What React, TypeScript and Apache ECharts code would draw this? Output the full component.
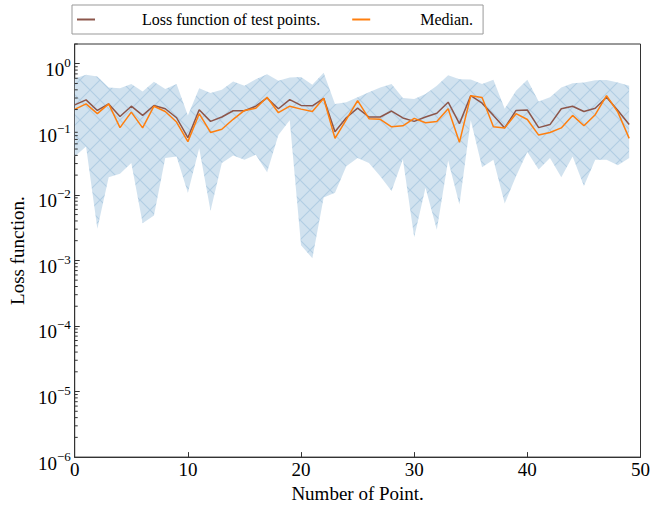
import React, { useEffect, useRef } from 'react';
import * as echarts from 'echarts';

const FONT = 'Liberation Serif';

// x positions (number of point)
const points = [
  0, 1, 2, 3, 4, 5, 6, 7, 8, 9,
  10, 11, 12, 13, 14, 15, 16, 17, 18, 19,
  20, 21, 22, 23, 24, 25, 26, 27, 28, 29,
  30, 31, 32, 33, 34, 35, 36, 37, 38, 39,
  40, 41, 42, 43, 44, 45, 46, 47, 48, 49,
];

const lossValues = [
  0.236, 0.281, 0.194, 0.244, 0.157, 0.225, 0.163, 0.231, 0.206, 0.150,
  0.0745, 0.199, 0.132, 0.154, 0.192, 0.192, 0.225, 0.301, 0.206, 0.284,
  0.231, 0.228, 0.297, 0.0917, 0.15, 0.210, 0.154, 0.154, 0.190, 0.149,
  0.132, 0.154, 0.176, 0.259, 0.122, 0.326, 0.25, 0.163, 0.105, 0.194,
  0.197, 0.106, 0.118, 0.206, 0.225, 0.187, 0.210, 0.308, 0.194, 0.118,
];

const medianValues = [
  0.201, 0.244, 0.173, 0.244, 0.106, 0.183, 0.105, 0.225, 0.187, 0.129,
  0.0649, 0.173, 0.0895, 0.100, 0.142, 0.194, 0.210, 0.308, 0.179, 0.225,
  0.203, 0.187, 0.297, 0.0727, 0.14, 0.274, 0.145, 0.142, 0.109, 0.113,
  0.147, 0.126, 0.132, 0.205, 0.0632, 0.326, 0.306, 0.109, 0.105, 0.173,
  0.141, 0.0816, 0.0895, 0.105, 0.163, 0.113, 0.167, 0.326, 0.183, 0.0727,
];

const upperValues = [
  0.594, 0.682, 0.637, 0.435, 0.421, 0.489, 0.378, 0.530, 0.411, 0.489,
  0.163, 0.421, 0.357, 0.402, 0.535, 0.461, 0.581, 0.690, 0.548, 0.615,
  0.63, 0.48, 0.73, 0.244, 0.259, 0.308, 0.366, 0.435, 0.489, 0.30,
  0.290, 0.345, 0.460, 0.667, 0.581, 0.575, 0.489, 0.568, 0.206, 0.387,
  0.57, 0.265, 0.308, 0.435, 0.506, 0.518, 0.561, 0.566, 0.518, 0.461,
];

const lowerValues = [
  0.0385, 0.0545, 0.00304, 0.0186, 0.0209, 0.0306, 0.0037, 0.00483, 0.0364, 0.0385,
  0.0108, 0.0514, 0.00574, 0.0306, 0.0399, 0.0343, 0.0408, 0.0221, 0.0816, 0.137,
  0.0017, 0.00108, 0.0091, 0.0108, 0.0273, 0.0364, 0.0306, 0.0193, 0.0115, 0.035,
  0.00225, 0.0128, 0.00294, 0.0335, 0.0071, 0.137, 0.0263, 0.0343, 0.0074, 0.0193,
  0.045, 0.0243, 0.0364, 0.0186, 0.0385, 0.0136, 0.0343, 0.0343, 0.0282, 0.0364,
];

const xTicks = [0, 10, 20, 30, 40, 50];
const yDecades = [-6, -5, -4, -3, -2, -1, 0];
const minorMultipliers = [2, 3, 4, 5, 6, 7, 8, 9];

const LOSS_NAME = 'Loss function of test points.';
const MEDIAN_NAME = 'Median.';

function makeHatch(): HTMLCanvasElement {
  const S = 20;
  const c = document.createElement('canvas');
  c.width = S;
  c.height = S;
  const ctx = c.getContext('2d')!;
  ctx.fillStyle = '#d1e2ef';
  ctx.fillRect(0, 0, S, S);
  ctx.strokeStyle = '#b1cde3';
  ctx.lineWidth = 1.1;
  ctx.beginPath();
  for (const o of [-S, 0, S]) {
    ctx.moveTo(o, 0);
    ctx.lineTo(o + S, S);
    ctx.moveTo(o, S);
    ctx.lineTo(o + S, 0);
  }
  ctx.stroke();
  return c;
}

export default function App() {
  const ref = useRef<HTMLDivElement>(null);

  useEffect(() => {
    if (!ref.current) return;
    const chart = echarts.init(ref.current, null, { renderer: 'svg' });

    const minorTickValues: number[] = [];
    yDecades.forEach((d) => {
      minorMultipliers.forEach((m) => {
        const v = m * Math.pow(10, d);
        if (v <= 2) minorTickValues.push(v);
      });
    });

    const hatch = makeHatch();
    const pattern: any = { image: hatch, repeat: 'repeat', imageWidth: hatch.width, imageHeight: hatch.height };

    const supText = (v: number) => {
      const e = Math.round(Math.log10(v));
      const s = e < 0 ? '\u2212' + String(-e) : String(e);
      return '{b|10}{s|' + s + '}';
    };

    const bandData = points.map((x, i) => [x, lowerValues[i], upperValues[i]]);

    const option: any = {
      animation: false,
      backgroundColor: '#ffffff',
      textStyle: { fontFamily: FONT, color: '#000' },
      legend: {
        data: [
          { name: LOSS_NAME, textStyle: { padding: [0, 0, 0, 42] } },
          { name: MEDIAN_NAME, textStyle: { padding: [0, 0, 0, 45] } },
        ],
        left: 72,
        top: 5,
        orient: 'horizontal',
        padding: [6, 10, 6, 5],
        itemGap: 32,
        itemWidth: 18,
        itemHeight: 2,
        icon: 'rect',
        borderColor: '#999',
        borderWidth: 1,
        borderRadius: 0,
        textStyle: { fontSize: 16, fontFamily: FONT, color: '#000', lineHeight: 17 },
      },
      grid: {
        left: 72,
        right: 10,
        top: 44,
        bottom: 43,
        show: true,
        borderColor: '#333',
        borderWidth: 1,
        backgroundColor: 'transparent',
      },
      xAxis: {
        type: 'value',
        min: xTicks[0],
        max: xTicks[xTicks.length - 1],
        interval: 10,
        name: 'Number of Point.',
        nameLocation: 'middle',
        nameGap: 20,
        nameTextStyle: { fontSize: 19, color: '#000', fontFamily: FONT },
        axisLine: { lineStyle: { color: '#333', width: 1 } },
        axisTick: { inside: true, length: 5, lineStyle: { color: '#333' } },
        axisLabel: { fontSize: 19, color: '#000', margin: 3, fontFamily: FONT },
        splitLine: { show: false },
      },
      yAxis: {
        type: 'log',
        logBase: 10,
        min: 1e-6,
        max: 2,
        name: 'Loss function.',
        nameLocation: 'middle',
        nameGap: 40,
        nameRotate: 90,
        nameTextStyle: { fontSize: 19, color: '#000', fontFamily: FONT },
        axisLine: { show: true, lineStyle: { color: '#333', width: 1 } },
        axisTick: { inside: true, length: 5, lineStyle: { color: '#333' } },
        axisLabel: {
          margin: 4,
          showMaxLabel: false,
          color: '#000',
          formatter: supText,
          rich: {
            b: { fontSize: 19, fontFamily: FONT, color: '#000', padding: [12, 0, 0, 0] },
            s: { fontSize: 13, fontFamily: FONT, color: '#000', padding: [8, 0, 0, 0], verticalAlign: 'top' },
          },
        },
        splitLine: { show: false },
      },
      series: [
        {
          name: 'band',
          type: 'custom',
          coordinateSystem: 'cartesian2d',
          data: bandData,
          encode: { x: 0, y: [1, 2] },
          silent: true,
          z: 1,
          renderItem: (params: any, api: any) => {
            if (params.dataIndex !== 0) return null;
            const pts: number[][] = [];
            for (let i = 0; i < bandData.length; i++) {
              pts.push(api.coord([bandData[i][0], bandData[i][2]]));
            }
            for (let i = bandData.length - 1; i >= 0; i--) {
              pts.push(api.coord([bandData[i][0], bandData[i][1]]));
            }
            return {
              type: 'polygon',
              shape: { points: pts },
              style: { fill: pattern, stroke: 'none' },
              silent: true,
            };
          },
        },
        {
          name: 'minorTicks',
          type: 'custom',
          coordinateSystem: 'cartesian2d',
          data: minorTickValues.map((v) => [xTicks[0], v]),
          silent: true,
          z: 5,
          renderItem: (params: any, api: any) => {
            const p = api.coord([api.value(0), api.value(1)]);
            return {
              type: 'line',
              shape: { x1: p[0], y1: p[1], x2: p[0] + 3, y2: p[1] },
              style: { stroke: '#333', lineWidth: 1 },
              silent: true,
            };
          },
        },
        {
          name: LOSS_NAME,
          type: 'line',
          data: points.map((x, i) => [x, lossValues[i]]),
          symbol: 'none',
          lineStyle: { color: '#8c564b', width: 1.5 },
          itemStyle: { color: '#8c564b' },
          z: 3,
        },
        {
          name: MEDIAN_NAME,
          type: 'line',
          data: points.map((x, i) => [x, medianValues[i]]),
          symbol: 'none',
          lineStyle: { color: '#ff7f0e', width: 1.5 },
          itemStyle: { color: '#ff7f0e' },
          z: 4,
        },
      ],
    };

    chart.setOption(option);
    return () => chart.dispose();
  }, []);

  return (
    <div
      ref={ref}
      style={{ position: 'absolute', left: 0, top: 0, width: 653, height: 508, background: '#fff' }}
    />
  );
}
